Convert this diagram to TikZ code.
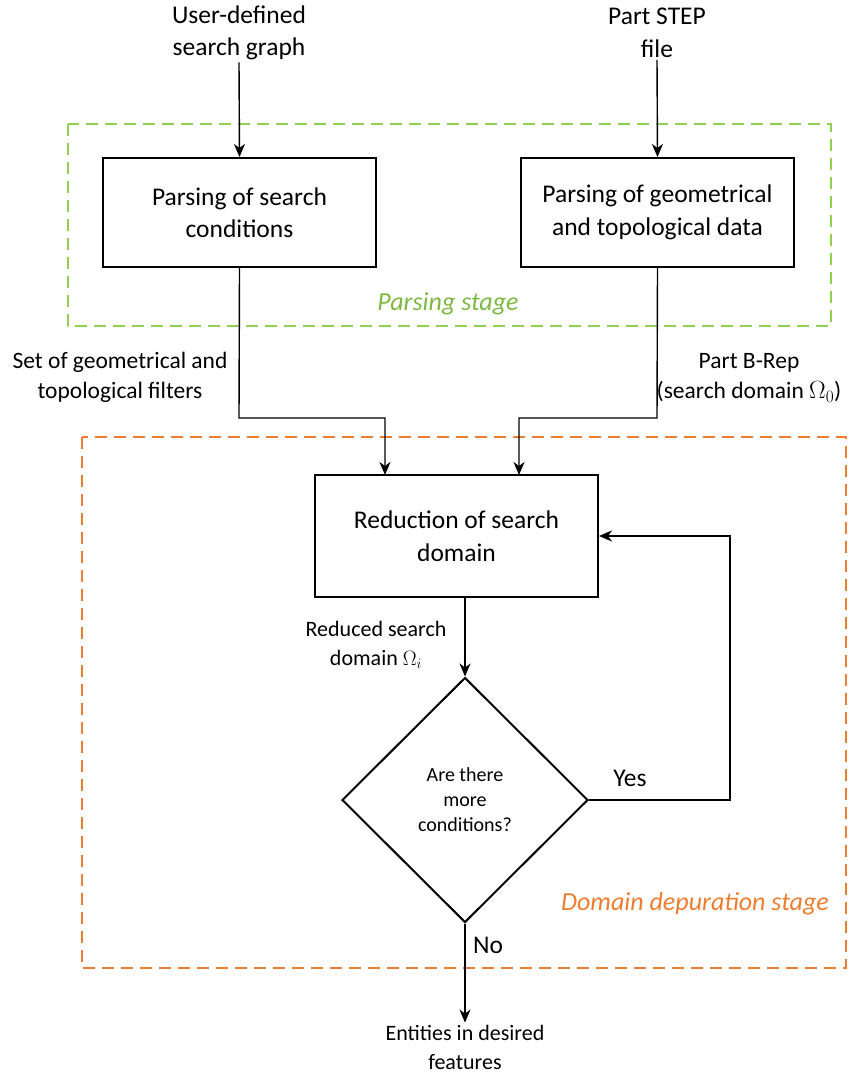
\documentclass[tikz,border=0pt]{standalone}
\usepackage{fontspec}
\setmainfont{Carlito}
\usetikzlibrary{shapes.geometric,arrows.meta}
\definecolor{stagegreen}{HTML}{92D050}
\definecolor{stagegreentext}{HTML}{7DB843}
\definecolor{stageorange}{HTML}{ED7D31}
\tikzset{
  mainfont/.style={font=\fontsize{25.5}{32.5}\selectfont},
  labelfont/.style={font=\fontsize{23.5}{30}\selectfont},
  smallfont/.style={font=\fontsize{20}{25}\selectfont},
  procbox/.style={draw=black, line width=2pt, rectangle, minimum width=273pt, minimum height=109pt, align=center, mainfont, inner sep=0pt},
  txt/.style={align=center, inner sep=2pt},
  arr/.style={draw=black, line width=1.4pt, -{Stealth[length=13pt,width=11pt,inset=4pt]}},
  conn/.style={draw=black, line width=1.4pt},
  stagebox/.style={line width=2pt, dash pattern=on 12pt off 7pt},
  decision/.style={draw=black, line width=2pt, diamond, minimum width=246pt, minimum height=245pt, inner sep=0pt, align=center, smallfont},
}
\begin{document}
\begin{tikzpicture}[x=1pt,y=-1pt]
\useasboundingbox (0,0) rectangle (862,1078);
% stage frames
\draw[stagebox, draw=stagegreen] (68,124) rectangle (831,326);
\draw[stagebox, draw=stageorange] (82,437) rectangle (846,968);
\node[txt, font=\fontsize{26}{30}\selectfont\itshape, text=stagegreentext] (ps) at (448,304) {Parsing stage};
\node[txt, font=\fontsize{26}{30}\selectfont\itshape, text=stageorange] (ds) at (695,904) {Domain depuration stage};
% inputs
\node[txt, mainfont] (in1) at (239,33) {User-defined\\search graph};
\node[txt, mainfont] (in2) at (657,33) {Part STEP\\file};
% process boxes
\node[procbox] (b1) at (239.5,212.5) {Parsing of search\\conditions};
\node[procbox] (b2) at (657.5,212.5) {Parsing of geometrical\\and topological data};
\node[procbox, minimum width=283pt, minimum height=122pt] (b3) at (456.5,536) {Reduction of search\\domain};
\node[decision] (d) at (465,800) {Are there\\more\\conditions?};
\node[txt, mainfont, font=\fontsize{22}{29}\selectfont] (out) at (465,1047) {Entities in desired\\features};
% labels
\node[txt, labelfont] (l1) at (120,377) {Set of geometrical and\\topological filters};
\node[txt, labelfont] (l2) at (749,378) {Part B-Rep\\(search domain $\Omega_0$)};
\node[txt, labelfont, font=\fontsize{22}{29}\selectfont] (l3) at (376,645) {Reduced search\\domain $\Omega_i$};
\node[txt, mainfont] (yes) at (630,778) {Yes};
\node[txt, mainfont] (no) at (488,945) {No};
% junction coordinates
\coordinate (j1) at (239,418);
\coordinate (j2) at (657,418);
\coordinate (e1) at (385,475);
\coordinate (e2) at (519,475);
\coordinate (ly) at (730,800);
% connectors
\draw[arr] (in1.south) -- (b1.north);
\draw[arr] (in2.south) -- (b2.north);
\draw[arr] (b1.south) -- (j1) -| (e1);
\draw[arr] (b2.south) -- (j2) -| (e2);
\draw[arr] (b3.south -| d.north) -- (d.north);
\draw[arr] (d.east) -- (ly) |- (b3.east);
\draw[arr] (d.south) -- (out.north);
\end{tikzpicture}
\end{document}
